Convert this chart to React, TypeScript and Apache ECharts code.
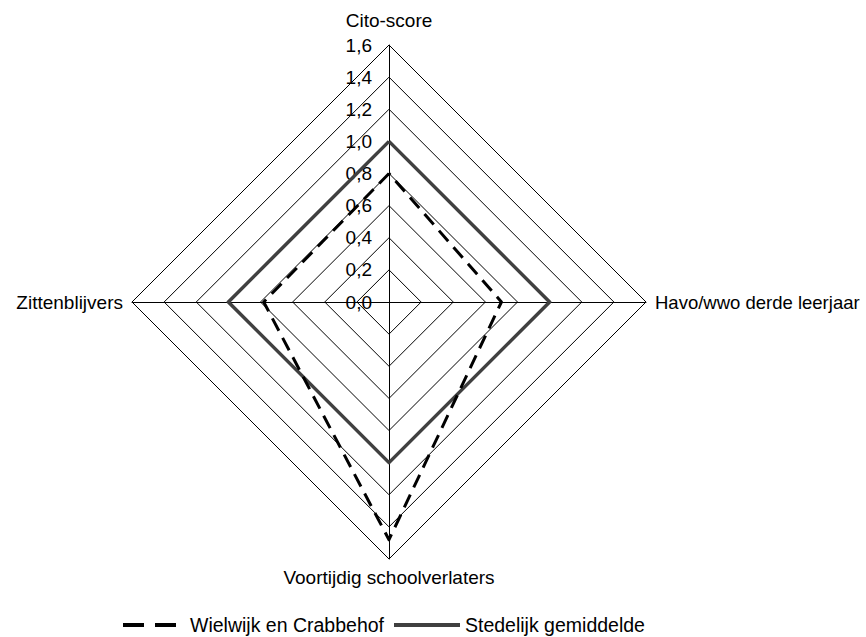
import React, { useEffect, useRef } from "react";
import * as echarts from "echarts";

// ECharts places radar indicators counter-clockwise from the top
const indicators = ["Cito-score", "Zittenblijvers", "Voortijdig schoolverlaters", "Havo/wwo derde leerjaar"];
const wielwijk = [0.8, 0.78, 1.48, 0.7];
const stedelijk = [1.0, 1.0, 1.0, 1.0];
const seriesNames = ["Wielwijk en Crabbehof", "Stedelijk gemiddelde"];
const axisMax = 1.6;
const axisStep = 0.2;

const FONT = "'Liberation Sans', Arial, sans-serif";
const FS = 19;

export default function App() {
  const ref = useRef<HTMLDivElement>(null);
  useEffect(() => {
    if (!ref.current) return;
    const chart = echarts.init(ref.current, null, { renderer: "svg" });
    const cx = 389, cy = 302, r = 257;
    chart.setOption({
      animation: false,
      backgroundColor: "#fff",
      textStyle: { fontFamily: FONT, color: "#000" },
      radar: {
        center: [cx, cy],
        radius: r,
        startAngle: 90,
        shape: "polygon",
        splitNumber: Math.round(axisMax / axisStep),
        indicator: indicators.map((n) => ({ name: n, min: 0, max: axisMax })),
        nameGap: 9,
        axisName: {
          color: "#000",
          fontSize: FS,
          fontFamily: FONT,
          formatter: (name: string) =>
            name === indicators[0] ? "{top|" + name + "}" : name === indicators[3] ? "{rt|" + name + "}" : name,
          rich: {
            top: { fontSize: FS, fontFamily: FONT, color: "#000", padding: [0, 0, 6, 0] },
            rt: { fontSize: 18.5, fontFamily: FONT, color: "#000" },
          },
        },
        splitArea: { show: false },
        splitLine: { lineStyle: { color: "#000", width: 1 } },
        axisLine: { lineStyle: { color: "#000", width: 1 } },
        axisTick: { show: false },
        axisLabel: { show: false },
      },
      grid: { left: cx, top: cy - r, width: 1, height: r },
      xAxis: { type: "value", show: false, min: 0, max: 1 },
      yAxis: {
        type: "value",
        min: 0,
        max: axisMax,
        interval: axisStep,
        axisLine: { show: false },
        axisTick: { show: false },
        splitLine: { show: false },
        axisLabel: {
          margin: 17,
          color: "#000",
          fontSize: FS,
          fontFamily: FONT,
          formatter: (v: number) => v.toFixed(1).replace(".", ","),
        },
      },
      legend: [
        {
          data: [{ name: seriesNames[0], icon: "path://M0,0h21v4h-21zM32,0h21v4h-21z" }],
          left: 118,
          top: 610,
          itemWidth: 53,
          itemHeight: 4,
          symbolKeepAspect: false,
          itemStyle: { color: "#000" },
          textStyle: { color: "#000", fontSize: 19.5, fontFamily: FONT, padding: [0, 0, 0, 9] },
        },
        {
          data: [{ name: seriesNames[1], icon: "path://M0,0h66v4h-66z" }],
          left: 389,
          top: 610,
          itemWidth: 66,
          itemHeight: 4,
          symbolKeepAspect: false,
          itemStyle: { color: "#404040" },
          textStyle: { color: "#000", fontSize: 19.5, fontFamily: FONT },
        },
      ],
      series: [
        {
          type: "radar",
          name: seriesNames[0],
          symbol: "none",
          lineStyle: { color: "#000", width: 3, type: [14, 8] },
          itemStyle: { color: "#000" },
          data: [{ name: seriesNames[0], value: wielwijk }],
          z: 3,
        },
        {
          type: "radar",
          name: seriesNames[1],
          symbol: "none",
          lineStyle: { color: "#404040", width: 3.5 },
          itemStyle: { color: "#404040" },
          data: [{ name: seriesNames[1], value: stedelijk }],
          z: 2,
        },
      ],
    });
    return () => chart.dispose();
  }, []);
  return <div ref={ref} style={{ position: "fixed", left: 0, top: 0, width: 866, height: 637 }} />;
}
